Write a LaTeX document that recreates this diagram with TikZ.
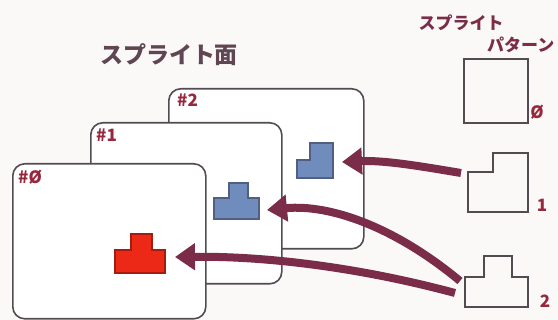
\documentclass[tikz,border=0pt]{standalone}
\usepackage{fontspec}
\newfontfamily\jp{Noto Sans CJK JP}
\usetikzlibrary{arrows.meta}
\definecolor{bg}{RGB}{251,248,248}
\definecolor{ink}{RGB}{82,76,82}
\definecolor{maroon}{RGB}{122,44,72}
\definecolor{lbl}{RGB}{150,40,60}
\definecolor{ttl}{RGB}{95,70,82}
\definecolor{sblue}{RGB}{112,140,188}
\definecolor{sblueline}{RGB}{80,95,130}
\definecolor{sred}{RGB}{236,40,22}
\begin{document}
\begin{tikzpicture}[x=1pt,y=-1pt,
  screen/.style={draw=ink, line width=1.6pt, fill=white, rounded corners=12pt, inner sep=0pt, anchor=north west},
  pat/.style={draw=ink, line width=2.4pt, line join=miter},
  bluesp/.style={fill=sblue, draw=sblueline, line width=1.2pt},
  redsp/.style={fill=sred, draw=sred!70!black, line width=1.2pt},
  arr/.style={draw=maroon, line width=8pt, -{Triangle[length=20pt,width=26pt]}},
  scrlbl/.style={text=lbl, font=\jp\fontsize{17}{17}\selectfont\bfseries, anchor=north west, inner sep=0pt},
  patlbl/.style={text=lbl, font=\jp\fontsize{17}{17}\selectfont\bfseries, inner sep=0pt},
  ttlstyle/.style={text=ttl, inner sep=0pt}]
\fill[bg] (0,0) rectangle (558,320);
\useasboundingbox (0,0) rectangle (558,320);
% screens
\node[screen, minimum width=195pt, minimum height=160pt] (s2) at (168,88) {};
\node[scrlbl] (l2) at (177,94) {\#2};
\node[screen, minimum width=191pt, minimum height=161pt] (s1) at (90,122) {};
\node[scrlbl] (l1) at (96,129) {\#1};
\node[screen, minimum width=193pt, minimum height=155pt] (s0) at (12,163) {};
\node[scrlbl] (l0) at (18,170) {\#Ø};
% title
\node[ttlstyle, font=\jp\fontsize{23}{23}\selectfont\bfseries] (title) at (169,55) {スプライト面};
\node[ttlstyle, text=maroon, font=\jp\fontsize{17}{17}\selectfont\bfseries] (pt1) at (461,23) {スプライト};
\node[ttlstyle, text=maroon, font=\jp\fontsize{17}{17}\selectfont\bfseries, anchor=west] (pt2) at (487,45) {パターン};
% sprites on screens
\draw[bluesp] (297,160) -- (310,160) -- (310,143) -- (333,143) -- (333,178) -- (297,178) -- cycle;
\draw[bluesp] (214,198) -- (229,198) -- (229,183) -- (248,183) -- (248,198) -- (259,198) -- (259,219) -- (214,219) -- cycle;
\draw[redsp] (115,250) -- (131,250) -- (131,234) -- (152,234) -- (152,250) -- (165,250) -- (165,273) -- (115,273) -- cycle;
% patterns
\node[draw=ink, line width=2.4pt, minimum width=64pt, minimum height=64pt, inner sep=0pt, anchor=north west] (p0) at (463,58) {};
\node[patlbl] (n0) at (537,112) {Ø};
\draw[pat] (468,172) -- (493,172) -- (493,153) -- (528,153) -- (528,212) -- (468,212) -- cycle;
\node[patlbl] (n1) at (542,205) {1};
\draw[pat] (465,277) -- (484,277) -- (484,256) -- (512,256) -- (512,277) -- (528,277) -- (528,307) -- (465,307) -- cycle;
\node[patlbl] (n2) at (545,301) {2};
% arrow end points
\coordinate (a1s) at (461,173);
\coordinate (a1e) at (342,162);
\coordinate (a2s) at (460,281);
\coordinate (a2e) at (267,210);
\coordinate (a3s) at (455,293);
\coordinate (a3e) at (175,257);
\draw[arr] (a1s) .. controls (425,167) and (385,160) .. (a1e);
\draw[arr] (a2s) .. controls (395,227) and (330,204) .. (a2e);
\draw[arr] (a3s) .. controls (362,268) and (268,256) .. (a3e);
\end{tikzpicture}
\end{document}
